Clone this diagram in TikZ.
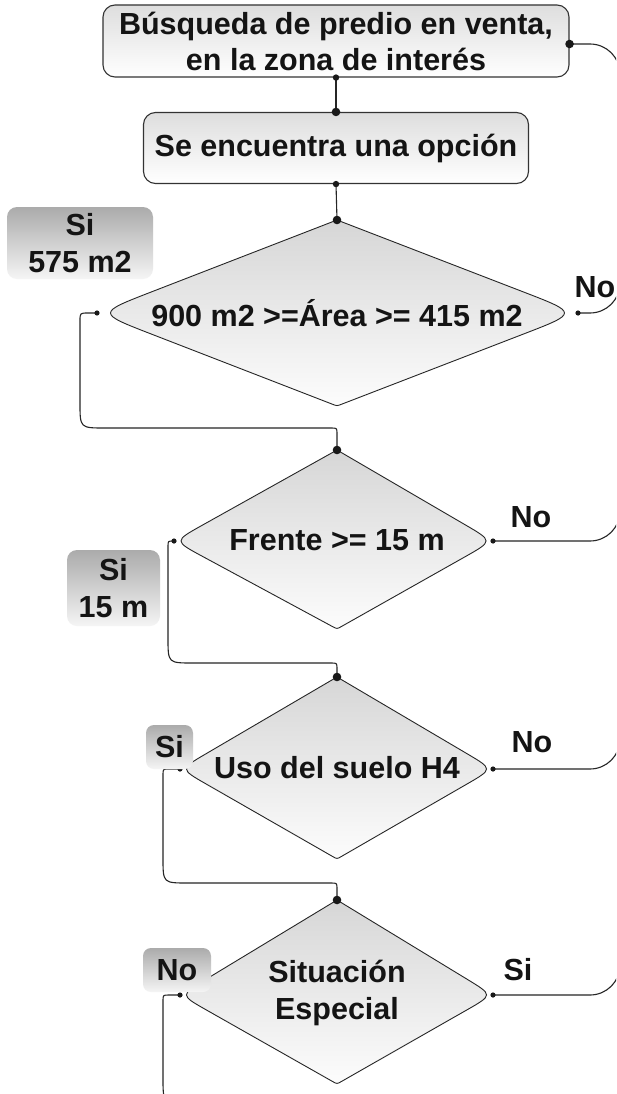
\documentclass[tikz,border=0pt]{standalone}
\usepackage{fontspec}
\setmainfont{Liberation Sans}
\usetikzlibrary{calc}
\newcommand\mydiam[2]{%
  \path[dshape] (#1n) -- ($(#1w)!#2!(#1n)$) .. controls (#1w) .. ($(#1w)!#2!(#1s)$)
    -- ($(#1s)!5pt!(#1w)$) .. controls (#1s) .. ($(#1s)!5pt!(#1e)$)
    -- ($(#1e)!#2!(#1s)$) .. controls (#1e) .. ($(#1e)!#2!(#1n)$) -- cycle;}
\begin{document}
\begin{tikzpicture}[x=1pt,y=-1pt,
  txt/.style={font=\bfseries\fontsize{30.5}{36}\selectfont, text=black!92, align=center, inner sep=0pt},
  boxs/.style={draw=black!80, line width=1.1pt, rounded corners=12pt, top color=black!13, bottom color=white, txt},
  dshape/.style={draw=black!85, line width=0.9pt, top color=black!16, bottom color=black!1},
  lbl/.style={rounded corners=10pt, top color=black!33, bottom color=black!4, txt, font=\bfseries\fontsize{30.5}{37}\selectfont},
  conn/.style={draw=black!85, line width=1.1pt},
]
\useasboundingbox (0,0) rectangle (616,1094);
\clip (0,0) rectangle (616,1094);
\fill[white] (0,0) rectangle (616,1094);

% boxes
\node[boxs, minimum width=466pt, minimum height=72pt] (b1) at (336,41) {Búsqueda de predio en venta,\\en la zona de interés};
\node[boxs, minimum width=385pt, minimum height=71pt] (b2) at (336,148) {Se encuentra una opción};
\coordinate (b1r) at ($(b1.east)+(0,3)$);

% diamond vertices (side vertices carry the connector dots)
\coordinate (d1n) at (337,220); \coordinate (d1s) at (337,406); \coordinate (d1w) at (97,313);  \coordinate (d1e) at (578,313);
\coordinate (d2n) at (337,450); \coordinate (d2s) at (337,629); \coordinate (d2w) at (174,541); \coordinate (d2e) at (493,541);
\coordinate (d3n) at (337,677); \coordinate (d3s) at (337,859); \coordinate (d3w) at (180,769); \coordinate (d3e) at (493,769);
\coordinate (d4n) at (337,900); \coordinate (d4s) at (337,1084); \coordinate (d4w) at (180,995); \coordinate (d4e) at (493,995);
\mydiam{d1}{58pt}\mydiam{d2}{32pt}\mydiam{d3}{30pt}\mydiam{d4}{30pt}

% vertical connectors
\draw[conn] (b1.south) -- (b2.north);
\draw[conn] (b2.south) -- (d1n);

% left (Si) connectors
\draw[conn] (d1w) -- (88,313) .. controls (80,313) .. (80,321) -- (80,403) .. controls (80,428) .. (105,428) -- (331,428) .. controls (337,428) .. (337,434) -- (d2n);
\draw[conn] (d2w) -- (173,541) .. controls (168,541) .. (168,547) -- (168,638) .. controls (168,663) .. (193,663) -- (331,663) .. controls (337,663) .. (337,669) -- (d3n);
\draw[conn] (d3w) -- (169,769) .. controls (163,769) .. (163,775) -- (163,858) .. controls (163,883) .. (188,883) -- (331,883) .. controls (337,883) .. (337,889) -- (d4n);
\draw[conn] (d4w) -- (169,995) .. controls (163,995) .. (163,1001) -- (163,1078) .. controls (163,1103) .. (188,1103) -- (337,1103);

% right (No) connectors, bending into a vertical line just outside the picture
\draw[conn] (b1r) -- (590,44) .. controls (606.6,44) and (620,57.4) .. (620,74) -- (620,200);
\draw[conn] (d1e) -- (590,313) .. controls (606.6,313) and (620,299.6) .. (620,283) -- (620,250);
\draw[conn] (d2e) -- (590,541) .. controls (606.6,541) and (620,527.6) .. (620,511) -- (620,480);
\draw[conn] (d3e) -- (590,769) .. controls (606.6,769) and (620,755.6) .. (620,739) -- (620,700);
\draw[conn] (d4e) -- (590,995) .. controls (606.6,995) and (620,981.6) .. (620,965) -- (620,930);

% dots
\foreach \p in {b1r,b2.north,d1n,d2n,d3n,d4n} \fill[black!90] (\p) circle (4.3pt);
\foreach \p in {b1.south,b2.south} \fill[black!90] (\p) circle (3.2pt);
\foreach \p in {d1w,d1e,d2w,d2e,d3w,d3e,d4w,d4e} \fill[black!90] (\p) circle (2.6pt);

% diamond texts
\node[txt] (t1) at (337,313) {900 m2 >=Área >= 415 m2};
\node[txt] (t2) at (337,540) {Frente >= 15 m};
\node[txt] (t3) at (337,768) {Uso del suelo H4};
\node[txt, font=\bfseries\fontsize{30.5}{37}\selectfont] (t4) at (337,993) {Situación\\Especial};

% branch labels
\node[txt] (n1) at (595,287) {No};
\node[txt] (n2) at (531,517) {No};
\node[txt] (n3) at (532,742) {No};
\node[txt] (n4) at (518,970) {Si};

% gray label boxes
\node[lbl, minimum width=146pt, minimum height=72pt] (l1) at (80,243) {Si\\575 m2};
\node[lbl, minimum width=93pt, minimum height=76pt] (l2) at (113.5,588) {Si\\15 m};
\node[lbl, minimum width=47pt, minimum height=44pt, rounded corners=8pt] (l3) at (169.5,747) {Si};
\node[lbl, minimum width=68pt, minimum height=44pt, rounded corners=8pt] (l4) at (177,970) {No};
\end{tikzpicture}
\end{document}
